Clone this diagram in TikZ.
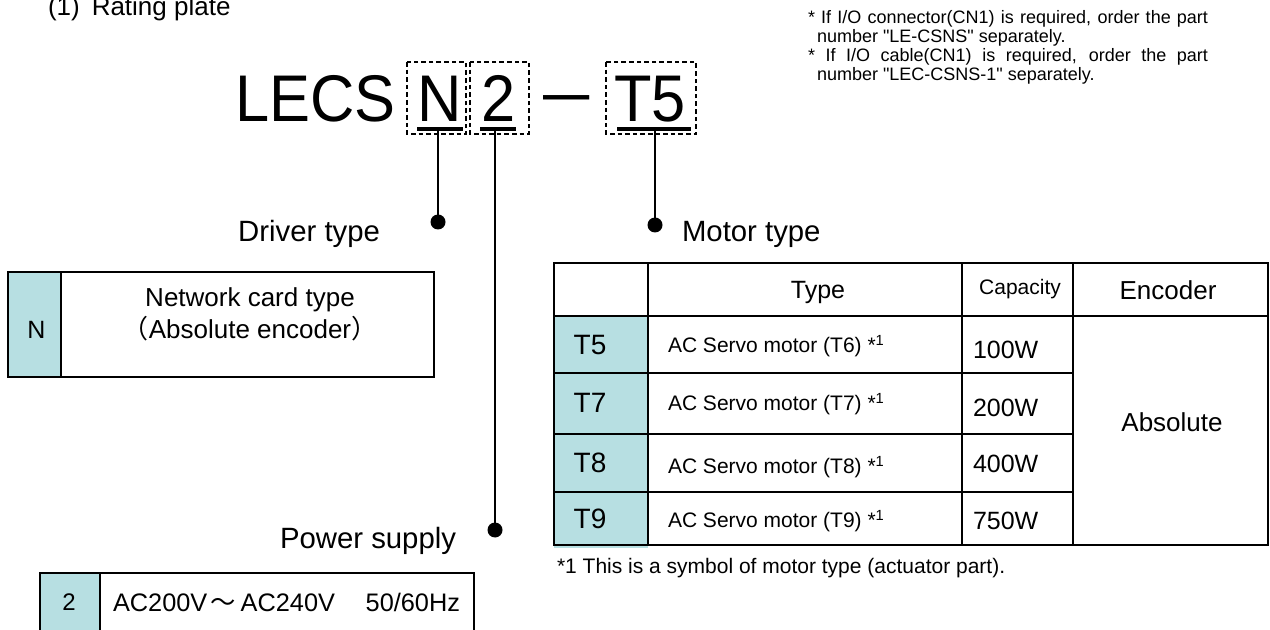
\documentclass[tikz,border=0pt]{standalone}
\usepackage{fontspec}
\setmainfont{Liberation Sans}[Ligatures=TeXOff]
\newfontfamily\cjk{Noto Sans CJK JP}
\definecolor{cellblue}{RGB}{183,223,226}
\newcommand\fpx[1]{\fontsize{#1pt}{#1pt}\selectfont}
\begin{document}
\begin{tikzpicture}[x=0.75pt,y=-0.75pt,
  txt/.style={inner sep=0pt,outer sep=0pt},
  dbox/.style={draw=black,line width=1pt,dash pattern=on 3.5pt off 2.2pt},
  uline/.style={line width=3pt},
  conn/.style={line width=1.2pt},
  dotn/.style={circle,fill=black,inner sep=0pt,minimum size=11.25pt},
  tbl/.style={line width=1.1pt}]
\useasboundingbox (0,0) rectangle (1270,630);
\clip (0,0) rectangle (1270,630);

% title
\node[txt,anchor=base west,font=\fpx{19.5}] (title) at (48,16) {(1)\hspace{9pt}Rating plate};

% notes
\node[txt,anchor=base west,font=\fpx{13.5}] (note1) at (808,24) {\makebox[300pt][s]{* If I/O connector(CN1) is required, order the part}};
\node[txt,anchor=base west,font=\fpx{13.5}] (note2) at (817,43) {number "LE-CSNS" separately.};
\node[txt,anchor=base west,font=\fpx{13.5}] (note3) at (808,62) {\makebox[300pt][s]{* If I/O cable(CN1) is required, order the part}};
\node[txt,anchor=base west,font=\fpx{13.5}] (note4) at (817,81) {number "LEC-CSNS-1" separately.};

% model code
\node[txt,anchor=base west,font=\fpx{49.5},xscale=0.93] (lecs) at (235,122) {LECS};
\node[txt,anchor=base,font=\fpx{49.5},xscale=0.93] (cN) at (440,122) {N};
\node[txt,anchor=base,font=\fpx{49.5},xscale=0.93] (c2) at (499,122) {2};
\node[txt,anchor=base,font=\fpx{49.5},xscale=0.7] (cdash) at (566.5,114.5) {—};
\node[txt,anchor=base,font=\fpx{49.5},xscale=0.93] (cT) at (650,122) {T5};
\draw[dbox] (407,62) rectangle (466,134);
\draw[dbox] (470,62) rectangle (529,134);
\draw[dbox] (606,62) rectangle (696,134);
\draw[uline] (417,129) -- (463,129);
\draw[uline] (480,129) -- (516,129);
\draw[uline] (617,129) -- (691,129);

% connectors
\coordinate (nTop) at (438,131);
\coordinate (pTop) at (495,131);
\coordinate (mTop) at (655,131);
\node[dotn] (nDot) at (438,222) {};
\node[dotn] (pDot) at (495,530) {};
\node[dotn] (mDot) at (655,225) {};
\draw[conn] (nTop) -- (nDot.center);
\draw[conn] (pTop) -- (pDot.center);
\draw[conn] (mTop) -- (mDot.center);

% labels
\node[txt,anchor=base east,font=\fpx{22}] (lDriver) at (380,242) {Driver type};
\node[txt,anchor=base west,font=\fpx{22}] (lMotor) at (682,242) {Motor type};
\node[txt,anchor=base west,font=\fpx{22}] (lPower) at (280,548) {Power supply};

% driver table
\fill[cellblue] (8,272) rectangle (61,377);
\draw[tbl] (8,272) rectangle (434,377);
\draw[tbl] (61,272) -- (61,377);
\node[txt,anchor=base,font=\fpx{18.75}] (dN) at (36.5,339) {N};
\node[txt,anchor=base,font=\fpx{19.5}] (dT1) at (250,307) {Network card type};
\node[txt,anchor=base,font=\fpx{19.5}] (dT2) at (250,339) {{\cjk （}Absolute encoder{\cjk ）}};

% motor table
\fill[cellblue] (554,316) rectangle (648,548);
\draw[tbl] (554,263) rectangle (1268,545);
\draw[tbl] (554,316) -- (1268,316);
\draw[tbl] (554,373) -- (1073,373);
\draw[tbl] (554,434) -- (1073,434);
\draw[tbl] (554,492) -- (1073,492);
\draw[tbl] (648,263) -- (648,545);
\draw[tbl] (962,263) -- (962,545);
\draw[tbl] (1073,263) -- (1073,545);
\node[txt,anchor=base,font=\fpx{18.75}] (hType) at (818,299) {Type};
\node[txt,anchor=base,font=\fpx{15.75}] (hCap) at (1020,294.5) {Capacity};
\node[txt,anchor=base,font=\fpx{19.5}] (hEnc) at (1168,299.3) {Encoder};
\node[txt,anchor=base,font=\fpx{21}] (r1) at (590,355) {T5};
\node[txt,anchor=base,font=\fpx{21}] (r2) at (590,413) {T7};
\node[txt,anchor=base,font=\fpx{21}] (r3) at (590,472) {T8};
\node[txt,anchor=base,font=\fpx{21}] (r4) at (590,528) {T9};
\node[txt,anchor=base west,font=\fpx{15.75}] (s1) at (668,352.5) {AC Servo motor (T6) *\textsuperscript{1}};
\node[txt,anchor=base west,font=\fpx{15.75}] (s2) at (668,410.5) {AC Servo motor (T7) *\textsuperscript{1}};
\node[txt,anchor=base west,font=\fpx{15.75}] (s3) at (668,473.5) {AC Servo motor (T8) *\textsuperscript{1}};
\node[txt,anchor=base west,font=\fpx{15.75}] (s4) at (668,527.5) {AC Servo motor (T9) *\textsuperscript{1}};
\node[txt,anchor=base west,font=\fpx{18.75}] (w1) at (973,359) {100W};
\node[txt,anchor=base west,font=\fpx{18.75}] (w2) at (973,417) {200W};
\node[txt,anchor=base west,font=\fpx{18.75}] (w3) at (973,472) {400W};
\node[txt,anchor=base west,font=\fpx{18.75}] (w4) at (973,529) {750W};
\node[txt,anchor=base,font=\fpx{19.5}] (enc) at (1172,432) {Absolute};
\node[txt,anchor=base west,font=\fpx{15.75}] (foot) at (557,573.5) {*1 This is a symbol of motor type (actuator part).};

% power table
\fill[cellblue] (40,573) rectangle (100,640);
\draw[tbl] (40,640) -- (40,573) -- (474,573) -- (474,640);
\draw[tbl] (100,573) -- (100,640);
\node[txt,anchor=base,font=\fpx{18}] (p2) at (69,610) {2};
\node[txt,anchor=base west,font=\fpx{19}] (pTxt) at (113,611.6) {AC200V\hspace{2pt}{\cjk ～}\hspace{4pt}AC240V\hspace{23pt}50/60Hz};
\end{tikzpicture}
\end{document}
